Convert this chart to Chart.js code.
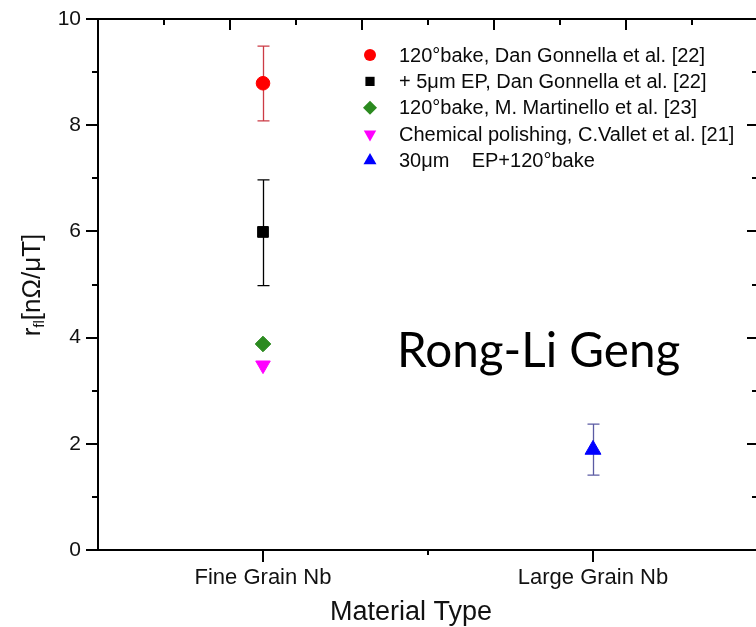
<!DOCTYPE html>
<html><head><meta charset="utf-8">
<script src="https://cdn.jsdelivr.net/npm/chart.js@4.4.1/dist/chart.umd.min.js"></script>
<style>html,body{margin:0;padding:0;background:#fff;overflow:hidden}#wrap{width:770px;height:627px;position:relative}</style>
</head><body><div id="wrap"><canvas id="c"></canvas></div>
<script>
// ---- data ----
const categories = ['Fine Grain Nb', 'Large Grain Nb'];
const seriesLabels = [
  '120°bake, Dan Gonnella et al. [22]',
  '+ 5μm EP, Dan Gonnella et al. [22]',
  '120°bake, M. Martinello et al. [23]',
  'Chemical polishing, C.Vallet et al. [21]',
  '30μm    EP+120°bake'
];
const seriesCategory = [0, 0, 0, 0, 1];
const seriesValues = [8.79, 5.99, 3.88, 3.48, 1.89];
const errLow = [8.08, 4.98, null, null, 1.41];
const errHigh = [9.49, 6.97, null, null, 2.37];
const yTicks = [0, 2, 4, 6, 8, 10];
const yTitleParts = ['r', 'fl', '[nΩ/μT]'];
const xTitle = 'Material Type';
const watermark = 'Rong-Li Geng';

// ---- styles ----
const markerStyles = [
  {ps: 'circle', rot: 0, r: 6.8, c: '#ff0000', ec: '#cc3b45'},
  {ps: 'rect', rot: 0, r: 7.6, c: '#000000', ec: '#000000'},
  {ps: 'rectRot', rot: 0, r: 7.8, c: '#2b8a1f', ec: '#2b8a1f'},
  {ps: 'triangle', rot: 180, r: 8.4, c: '#ff00ff', ec: '#ff00ff'},
  {ps: 'triangle', rot: 0, r: 9.2, c: '#0000ff', ec: '#5b5ba3'}
];
const FONT = '"Liberation Sans", Arial, sans-serif';

const datasets = seriesLabels.map((lab, i) => ({
  label: lab,
  data: [{x: seriesCategory[i] + 1, y: seriesValues[i]}],
  pointStyle: markerStyles[i].ps,
  rotation: markerStyles[i].rot,
  pointRadius: markerStyles[i].r,
  pointHoverRadius: markerStyles[i].r,
  backgroundColor: markerStyles[i].c,
  borderColor: markerStyles[i].c,
  borderWidth: 1,
  errLow: errLow[i],
  errHigh: errHigh[i],
  errColor: markerStyles[i].ec
}));

function drawMarker(ctx, style, x, y, r, color) {
  ctx.save();
  ctx.fillStyle = color;
  ctx.beginPath();
  if (style.ps === 'circle') {
    ctx.arc(x, y, r, 0, Math.PI * 2);
  } else if (style.ps === 'rect') {
    const s = r * Math.SQRT1_2;
    ctx.rect(x - s, y - s, 2 * s, 2 * s);
  } else if (style.ps === 'rectRot') {
    ctx.moveTo(x, y - r); ctx.lineTo(x + r, y); ctx.lineTo(x, y + r); ctx.lineTo(x - r, y);
  } else if (style.ps === 'triangle') {
    const a = style.rot * Math.PI / 180;
    for (let k = 0; k < 3; k++) {
      const t = a + k * 2 * Math.PI / 3;
      const px = x + Math.sin(t) * r, py = y - Math.cos(t) * r;
      if (k === 0) ctx.moveTo(px, py); else ctx.lineTo(px, py);
    }
  }
  ctx.closePath();
  ctx.fill();
  ctx.restore();
}

const noPad = s => { s.paddingTop = 0; s.paddingBottom = 0; s.paddingLeft = 0; s.paddingRight = 0; };

const framePlugin = {
  id: 'frame',
  beforeDatasetsDraw(chart) {
    const ctx = chart.ctx, xs = chart.scales.x, ys = chart.scales.y;
    ctx.save();
    chart.data.datasets.forEach(ds => {
      if (ds.errLow == null) return;
      const px = Math.round(xs.getPixelForValue(ds.data[0].x)) + 0.5;
      const yTop = ys.getPixelForValue(ds.errHigh), yBot = ys.getPixelForValue(ds.errLow);
      ctx.strokeStyle = ds.errColor;
      ctx.lineWidth = 1.3;
      ctx.beginPath();
      ctx.moveTo(px, yTop); ctx.lineTo(px, yBot);
      ctx.moveTo(px - 6, yTop); ctx.lineTo(px + 6, yTop);
      ctx.moveTo(px - 6, yBot); ctx.lineTo(px + 6, yBot);
      ctx.stroke();
    });
    ctx.restore();
  },
  afterDraw(chart) {
    const ctx = chart.ctx, a = chart.chartArea;
    const xs = chart.scales.x, ys = chart.scales.y, xt = chart.scales.x2, yr = chart.scales.y2;
    ctx.save();
    ctx.strokeStyle = '#000';
    ctx.lineWidth = 2;
    ctx.beginPath();
    for (let v = 0; v <= 10; v++) {
      const py = Math.round(ys.getPixelForValue(v));
      const len = v % 2 === 0 ? 12 : 6;
      ctx.moveTo(a.left - len, py); ctx.lineTo(a.left, py);
    }
    for (let v = 1; v <= 9; v++) {
      const py = Math.round(yr.getPixelForValue(v));
      const len = v % 2 === 0 ? 11 : 6;
      ctx.moveTo(a.right - len, py); ctx.lineTo(a.right, py);
    }
    for (let v = 1; v <= 9; v++) {
      const px = Math.round(xt.getPixelForValue(v));
      const len = v % 2 === 0 ? 11 : 6;
      ctx.moveTo(px, a.top); ctx.lineTo(px, a.top + len);
    }
    [1, 1.5, 2].forEach(v => {
      const px = Math.round(xs.getPixelForValue(v));
      const len = Number.isInteger(v) ? 12 : 5;
      ctx.moveTo(px, a.bottom); ctx.lineTo(px, a.bottom + len);
    });
    ctx.stroke();

    // legend
    ctx.font = '20px ' + FONT;
    ctx.textBaseline = 'middle';
    ctx.textAlign = 'left';
    const legR = [6, 6.5, 7, 7.2, 7.5];
    chart.data.datasets.forEach((ds, i) => {
      const y = 55 + i * 26.4;
      drawMarker(ctx, markerStyles[i], 370, y, legR[i], markerStyles[i].c);
      ctx.fillStyle = '#0a0a0a';
      ctx.fillText(ds.label, 399, y + 1);
    });

    // x title
    ctx.font = '27px ' + FONT;
    ctx.textAlign = 'center';
    ctx.textBaseline = 'alphabetic';
    ctx.fillStyle = '#111';
    ctx.fillText(xTitle, 411, 620);

    // y title (rotated, with subscript)
    ctx.save();
    const big = '26px ' + FONT, small = '15px ' + FONT;
    ctx.font = big; const w1 = ctx.measureText(yTitleParts[0]).width;
    ctx.font = small; const w2 = ctx.measureText(yTitleParts[1]).width;
    ctx.font = big; const w3 = ctx.measureText(yTitleParts[2]).width;
    const total = w1 + w2 + w3;
    ctx.translate(40, 285);
    ctx.rotate(-Math.PI / 2);
    ctx.textAlign = 'left';
    ctx.textBaseline = 'alphabetic';
    let x0 = -total / 2;
    ctx.font = big; ctx.fillText(yTitleParts[0], x0, 0); x0 += w1;
    ctx.font = small; ctx.fillText(yTitleParts[1], x0, 4); x0 += w2;
    ctx.font = big; ctx.fillText(yTitleParts[2], x0, 0);
    ctx.restore();

    // watermark
    ctx.font = '100px Lato';
    const ww = ctx.measureText(watermark).width;
    const fs = 100 * 283 / ww;
    ctx.font = fs.toFixed(1) + 'px Lato';
    ctx.textAlign = 'left';
    ctx.fillStyle = '#000';
    ctx.fillText(watermark, 397, 367);
    ctx.restore();
  }
};

new Chart(document.getElementById('c'), {
  type: 'scatter',
  data: {datasets},
  options: {
    responsive: true,
    maintainAspectRatio: false,
    animation: false,
    layout: {padding: 0},
    plugins: {legend: {display: false}, tooltip: {enabled: false}},
    scales: {
      x: {
        type: 'linear', position: 'bottom', min: 0.5, max: 2.5,
        afterBuildTicks: s => { s.ticks = categories.map((c, i) => ({value: i + 1})); },
        afterFit: s => { s.height = 77; noPad(s); },
        ticks: {callback: v => categories[v - 1] || '', color: '#111', font: {family: FONT, size: 22}, padding: 15, maxRotation: 0, autoSkip: false},
        grid: {display: false, drawTicks: false},
        border: {display: true, color: '#000', width: 2}
      },
      x2: {
        type: 'linear', position: 'top', min: 0, max: 10,
        afterFit: s => { s.height = 19; noPad(s); },
        ticks: {display: false},
        grid: {display: false, drawTicks: false},
        border: {display: true, color: '#000', width: 2}
      },
      y: {
        type: 'linear', position: 'left', min: 0, max: 10,
        afterBuildTicks: s => { s.ticks = yTicks.map(v => ({value: v})); },
        afterFit: s => { s.width = 98; noPad(s); },
        ticks: {color: '#111', font: {family: FONT, size: 21}, padding: 17},
        grid: {display: false, drawTicks: false},
        border: {display: true, color: '#000', width: 2}
      },
      y2: {
        type: 'linear', position: 'right', min: 0, max: 10,
        afterFit: s => { s.width = 12; noPad(s); },
        ticks: {display: false},
        grid: {display: false, drawTicks: false},
        border: {display: true, color: '#000', width: 2}
      }
    }
  },
  plugins: [framePlugin]
});
</script>
</body></html>
